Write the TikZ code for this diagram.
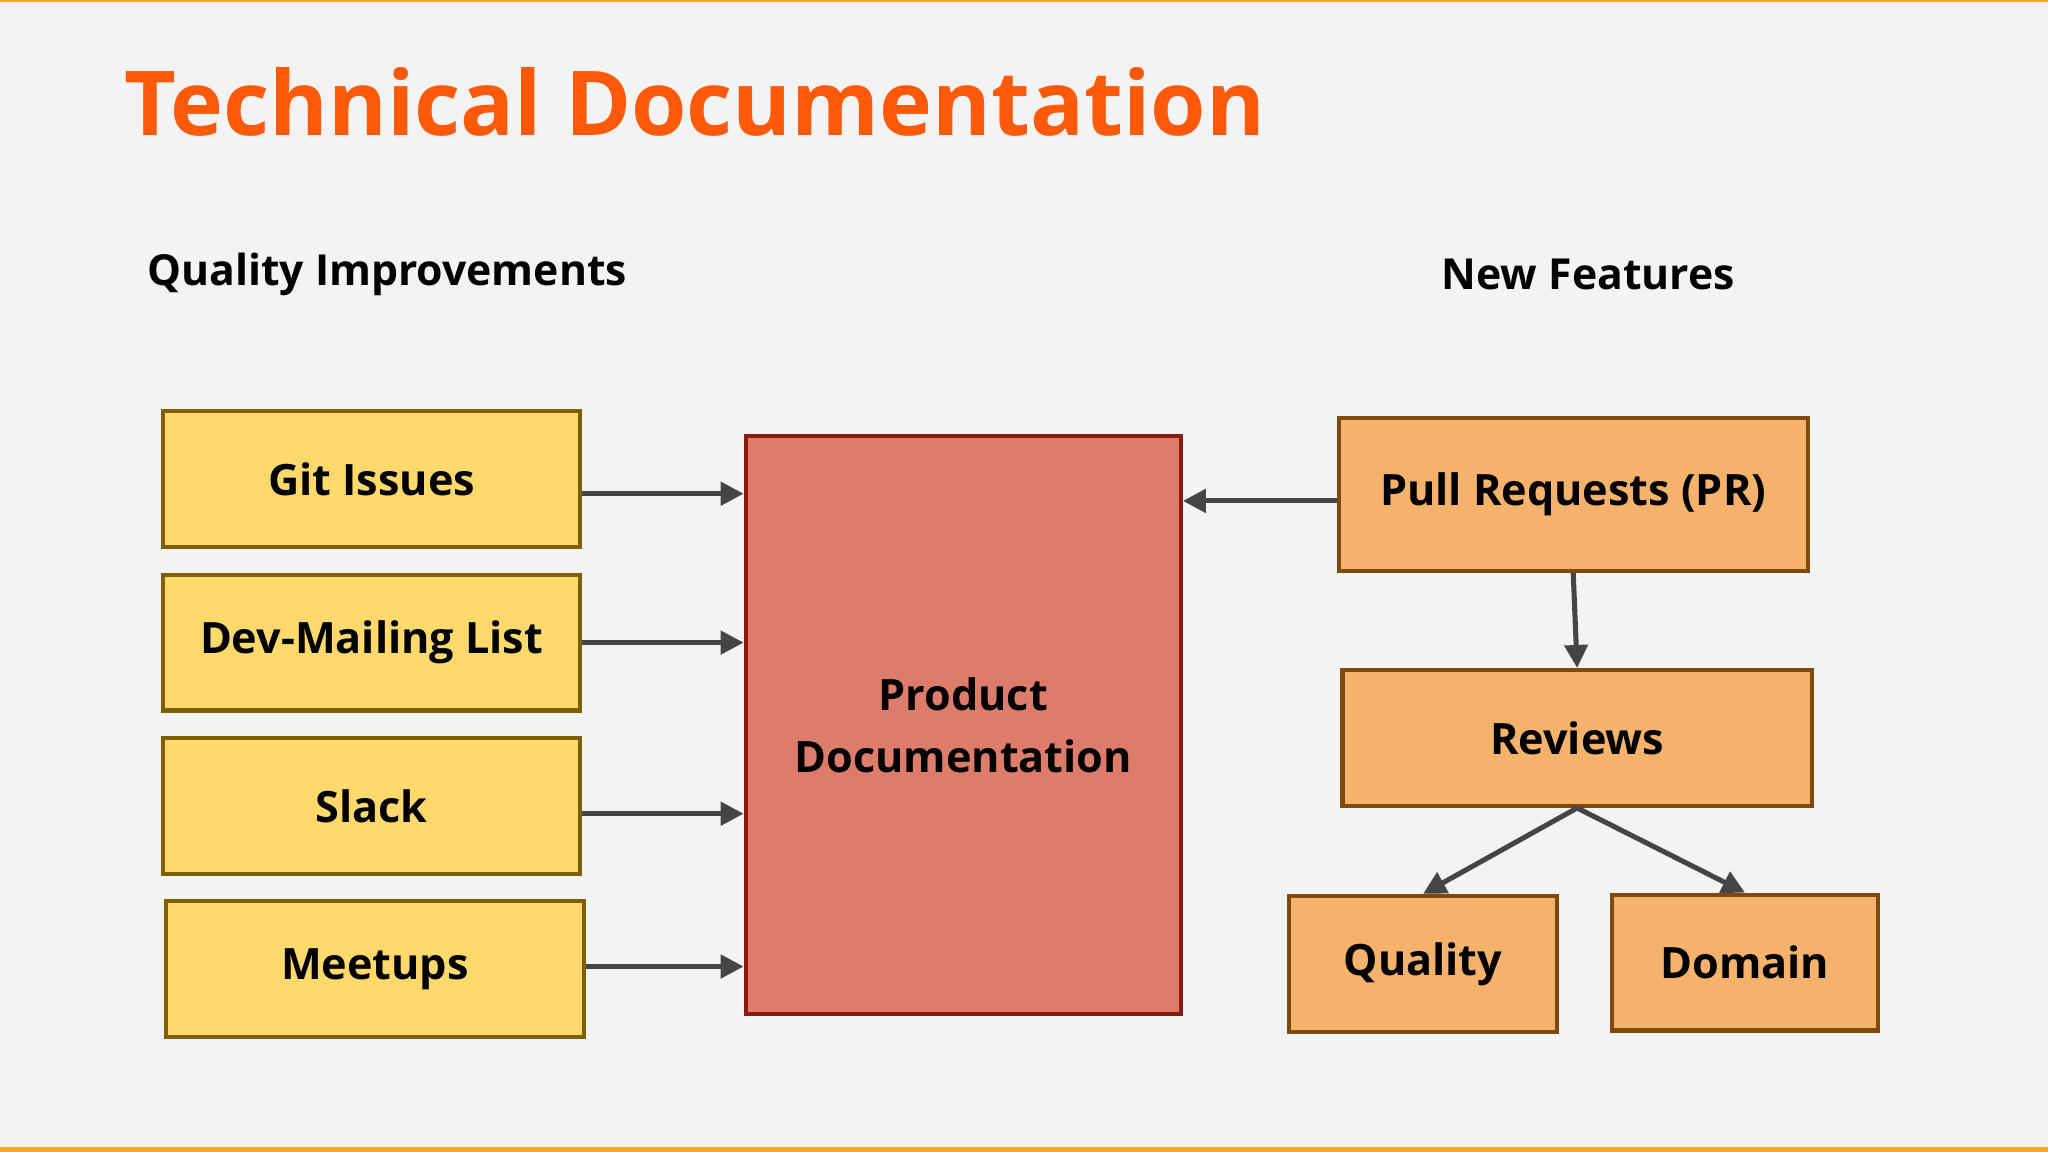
\documentclass[tikz,border=0pt]{standalone}
\usepackage{fontspec}
\setmainfont{Open Sans}
\usetikzlibrary{arrows.meta}
\definecolor{bgcol}{HTML}{F3F3F4}
\definecolor{titlecol}{HTML}{FF5A0A}
\definecolor{linecol}{HTML}{F5A623}
\definecolor{yelfill}{HTML}{FFD96B}
\definecolor{yeldraw}{HTML}{7F6000}
\definecolor{redfill}{HTML}{DE7C6B}
\definecolor{reddraw}{HTML}{8B1A10}
\definecolor{orfill}{HTML}{F4B26C}
\definecolor{ordraw}{HTML}{7F4A10}
\definecolor{arrcol}{HTML}{454545}
\tikzstyle{src} = [rectangle, draw=yeldraw, fill=yelfill, line width=0.9pt, minimum width=3.19cm, minimum height=1.04cm, font=\fontsize{9.4}{13}\selectfont\bfseries]
\tikzstyle{feat} = [rectangle, draw=ordraw, fill=orfill, line width=0.9pt, minimum height=1.04cm, font=\fontsize{9.4}{13}\selectfont\bfseries]
\tikzstyle{flow} = [draw=arrcol, line width=1.1pt, -{Triangle[length=5pt,width=5pt]}]
\begin{document}
\begin{tikzpicture}[x=0.01cm,y=-0.01cm]
        % background and frame lines
        \fill[bgcol] (0,0) rectangle (1568,882);
        \useasboundingbox (0,0) rectangle (1568,882);
        \fill[linecol] (0,0) rectangle (1568,1.5);
        \fill[linecol] (0,878) rectangle (1568,882);
        % headings
        \node (title) at (95,78) [anchor=west, inner sep=0pt, text=titlecol, font=\fontsize{19.5}{24}\selectfont\bfseries] {Technical Documentation};
        \node (qi) at (112,210) [anchor=west, inner sep=0pt, font=\fontsize{9.3}{13}\selectfont\bfseries] {Quality Improvements};
        \node (nf) at (1216,210) [font=\fontsize{9.3}{13}\selectfont\bfseries] {New Features};
        % sources
        \node (git) at (284.5,367) [src] {Git Issues};
        \node (dev) at (284.5,492) [src] {Dev-Mailing List};
        \node (slack) at (284.5,617) [src] {Slack};
        \node (meet) at (287,742) [src, minimum width=3.2cm] {Meetups};
        % product
        \node (prod) at (737.5,555) [rectangle, draw=reddraw, fill=redfill, line width=0.9pt, minimum width=3.33cm, minimum height=4.42cm, align=center, font=\fontsize{9.4}{13.5}\selectfont\bfseries] {Product\\Documentation};
        % features
        \node (pr) at (1204.5,378.5) [feat, minimum width=3.59cm, minimum height=1.17cm] {Pull Requests (PR)};
        \node (rev) at (1207.5,565) [feat, minimum width=3.59cm] {Reviews};
        \node (qual) at (1089.5,738) [feat, minimum width=2.05cm] {Quality};
        \node (dom) at (1336,737) [feat, minimum width=2.04cm] {Domain};
        % connectors
        \foreach \n/\dy in {git/11, dev/0, slack/6, meet/-2}
            \draw[flow] ([yshift=-\dy*0.01cm]\n.east) -- ([yshift=-\dy*0.01cm]\n.east -| prod.west);
        \draw[flow] ([yshift=-0.05cm]pr.west) -- ([yshift=-0.05cm]pr.west -| prod.east);
        \draw[flow] (pr.south) -- (rev.north);
        \draw[flow] (rev.south) -- (qual.north);
        \draw[flow] (rev.south) -- (dom.north);
\end{tikzpicture}
\end{document}
